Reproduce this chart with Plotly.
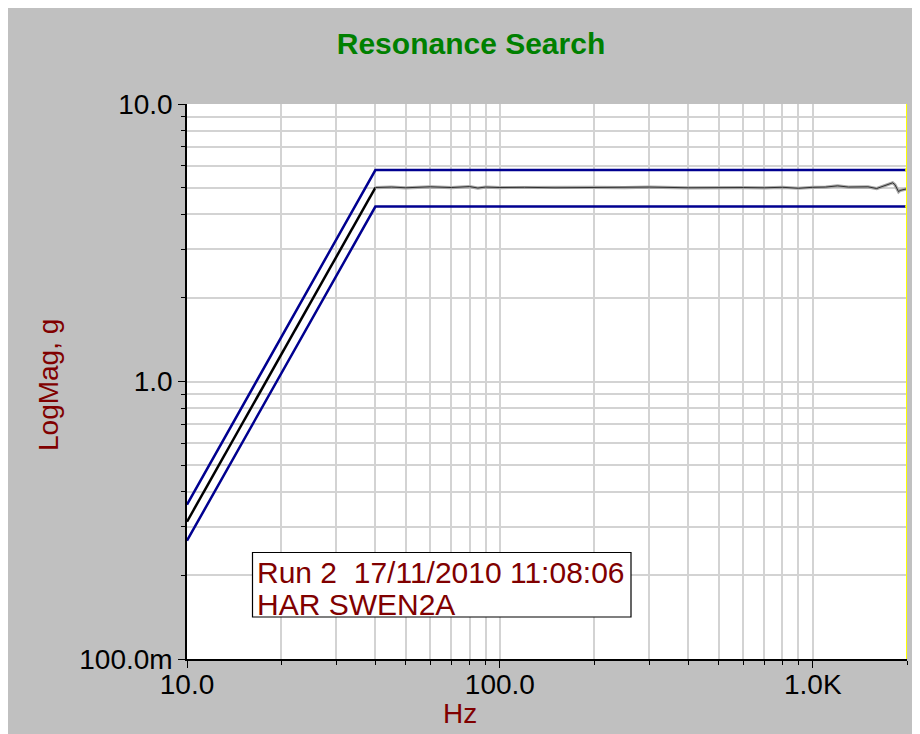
import plotly.graph_objects as go

# ---- data ----
profile_freq = [10, 40, 2000]
upper_abort = [0.36, 5.78, 5.78]
lower_abort = [0.267, 4.27, 4.27]
reference = [0.3125, 5.0, 5.0]

meas_freq = [40, 45, 50, 55, 60, 70, 80, 85, 90, 100, 120, 150, 200, 250, 300, 400,
             500, 600, 700, 800, 900, 950, 1000, 1100, 1200, 1300, 1400, 1500, 1600,
             1650, 1700, 1750, 1800, 1830, 1860, 1880, 1900, 1950, 2000]
meas_g = [5.00, 5.02, 4.99, 5.01, 5.03, 5.00, 5.04, 4.98, 5.02, 5.00, 5.01, 4.99, 5.01,
          5.00, 5.02, 4.99, 5.01, 5.00, 4.99, 5.01, 4.97, 5.00, 5.01, 5.02, 5.07, 5.02,
          5.01, 5.03, 4.96, 5.03, 5.08, 5.15, 5.20, 5.12, 4.90, 4.83, 4.88, 4.93, 4.95]

x_tickvals = [10, 100, 1000]
x_ticktext = ["10.0", "100.0", "1.0K"]
x_minor = [20, 30, 40, 50, 60, 70, 80, 90, 200, 300, 400, 500, 600, 700, 800, 900, 2000]
y_tickvals = [0.1, 1, 10]
y_ticktext = ["100.0m", "1.0", "10.0"]
y_minor = [0.2, 0.3, 0.4, 0.5, 0.6, 0.7, 0.8, 0.9, 2, 3, 4, 5, 6, 7, 8, 9]

title_text = "Resonance Search"
x_title = "Hz"
y_title = "LogMag, g"
note_lines = ["Run 2 \u00a017/11/2010 11:08:06", "HAR SWEN2A"]

# ---- layout geometry (pixels; page places figure at an 8px offset) ----
OFF = 8
W, H = 920, 734
# plot area in screen pixels: x 187..907, y 104..659
ML = 187 - OFF
MT = 104 - OFF
MR = W - (907 - OFF)
MB = H - (659 - OFF)
PW, PH = W - ML - MR, H - MT - MB


def px(xs):
    return (xs - OFF - ML) / PW


def py(ys):
    return (H - MB - (ys - OFF)) / PH


FONT = "Arial, Liberation Sans, sans-serif"
BLUE = "#000090"
DARKRED = "#800000"
GRID = "#d3d3d3"

fig = go.Figure()
fig.add_trace(go.Scatter(x=profile_freq, y=upper_abort, mode="lines",
                         line=dict(color=BLUE, width=2.5), hoverinfo="skip"))
fig.add_trace(go.Scatter(x=profile_freq, y=lower_abort, mode="lines",
                         line=dict(color=BLUE, width=2.5), hoverinfo="skip"))
fig.add_trace(go.Scatter(x=profile_freq[:2], y=reference[:2], mode="lines",
                         line=dict(color="black", width=2.5), hoverinfo="skip"))
fig.add_trace(go.Scatter(x=meas_freq, y=meas_g, mode="lines",
                         line=dict(color="#a8a8a8", width=3.2), hoverinfo="skip"))
fig.add_trace(go.Scatter(x=meas_freq, y=meas_g, mode="lines",
                         line=dict(color="#303030", width=1), hoverinfo="skip"))
fig.add_trace(go.Scatter(x=[profile_freq[-1]] * 2, y=[upper_abort[-1], lower_abort[-1]],
                         mode="markers", marker=dict(color="#ffff00", size=4),
                         hoverinfo="skip"))

axis_common = dict(
    type="log", showline=True, linecolor="black", linewidth=1.5,
    ticks="outside", ticklen=7, tickcolor="black", tickwidth=1,
    showgrid=True, gridcolor=GRID, gridwidth=1.5, zeroline=False,
    tickfont=dict(family=FONT, size=28, color="black"),
    tickmode="array", mirror=False,
)

fig.update_xaxes(**axis_common, range=[1, 3.30103], tickvals=x_tickvals, ticktext=x_ticktext,
                 ticklabelstandoff=-7,
                 minor=dict(tickmode="array", tickvals=x_minor, ticks="outside", ticklen=4,
                            tickcolor="black", showgrid=True, gridcolor=GRID, gridwidth=1.5))
fig.update_yaxes(**axis_common, range=[-1, 1], tickvals=y_tickvals, ticktext=y_ticktext,
                 minor=dict(tickmode="array", tickvals=y_minor, ticks="outside", ticklen=4,
                            tickcolor="black", showgrid=True, gridcolor=GRID, gridwidth=1.5))

shapes = [
    # yellow cursor at the end of the sweep
    dict(type="line", xref="x", yref="paper", x0=profile_freq[-1], x1=profile_freq[-1],
         y0=0, y1=1, line=dict(color="#ffff00", width=2)),
    # note box
    dict(type="rect", xref="paper", yref="paper", x0=px(252.5), x1=px(631), y0=py(617),
         y1=py(552.5), fillcolor="white", line=dict(color="black", width=1.2)),
]

annotations = [
    dict(text=note_lines[0], xref="paper", yref="paper", x=px(255), y=py(572),
         xanchor="left", yanchor="middle", showarrow=False,
         font=dict(family=FONT, size=30, color=DARKRED)),
    dict(text=note_lines[1], xref="paper", yref="paper", x=px(255), y=py(604),
         xanchor="left", yanchor="middle", showarrow=False,
         font=dict(family=FONT, size=30, color=DARKRED)),
    dict(text=x_title, xref="paper", yref="paper", x=px(460), y=py(713.5),
         xanchor="center", yanchor="middle", showarrow=False,
         font=dict(family=FONT, size=28, color=DARKRED)),
    dict(text=y_title, xref="paper", yref="paper", x=px(49), y=py(385), textangle=-90,
         xanchor="center", yanchor="middle", showarrow=False,
         font=dict(family=FONT, size=28, color=DARKRED)),
]

fig.update_layout(
    width=W, height=H, autosize=False,
    margin=dict(l=ML, r=MR, t=MT, b=MB, pad=0),
    paper_bgcolor="#c0c0c0", plot_bgcolor="white",
    showlegend=False,
    title=dict(text="<b>" + title_text + "</b>", xref="paper", x=px(471), xanchor="center",
               yref="container", y=1 - (43 - OFF) / H, yanchor="middle",
               font=dict(family=FONT, size=30, color="#008000")),
    shapes=shapes, annotations=annotations,
)

fig.write_html("out.html")
